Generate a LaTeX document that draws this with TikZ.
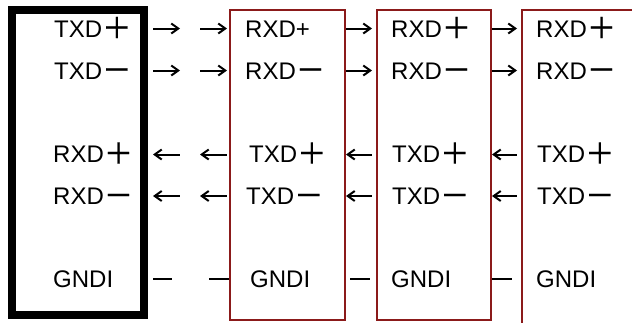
\documentclass[tikz,border=0pt]{standalone}
\usepackage{fontspec}
\setmainfont{Liberation Sans}
\newfontfamily\cjk{Noto Sans CJK JP}[Scale=1.22, FakeBold=0.4]
\usetikzlibrary{arrows.meta}
\definecolor{DevColor}{RGB}{139,26,26}
\newcommand{\wplus}{\raisebox{-1.5pt}{\cjk ＋}}
\newcommand{\wminus}{\raisebox{-1.5pt}{\cjk －}}

\begin{document}
\begin{tikzpicture}[x=1pt, y=-1pt,
    font=\fontsize{24}{28}\selectfont,
    host/.style={draw=black, line width=8pt, minimum width=132pt,
        minimum height=305pt, inner sep=0pt},
    dev/.style={draw=DevColor, line width=1.5pt, minimum width=115pt,
        minimum height=310pt, inner sep=0pt},
    pin/.style={anchor=base west, inner sep=0pt},
    fwd/.style={line width=2pt, -{Straight Barb[length=7pt, width=10pt]}},
    bwd/.style={line width=2pt, {Straight Barb[length=7pt, width=10pt]}-},
    gnd/.style={line width=2pt}]

    \useasboundingbox (0,0) rectangle (632,322);

    % boxes
    \node[host] (Host) at (78,162.5) {};
    \node[dev] (Dev1) at (287.5,165) {};
    \node[dev, minimum width=114pt] (Dev2) at (434,165) {};
    \node[dev, minimum width=118pt, minimum height=320pt] (Dev3) at (581,170) {};

    % host pins
    \node[pin] (HostTxP) at (54,37) {TXD\wplus};
    \node[pin] (HostTxN) at (54,79) {TXD\wminus};
    \node[pin] (HostRxP) at (53,162.5) {RXD\wplus};
    \node[pin] (HostRxN) at (53,204.5) {RXD\wminus};
    \node[pin] (HostGnd) at (53,287.5) {GNDI};

    % device pins
    \node[pin] (Dev1RxP) at (245,37) {RXD+};
    \node[pin] (Dev1RxN) at (245,79) {RXD\wminus};
    \node[pin] (Dev1TxP) at (249,162.5) {TXD\wplus};
    \node[pin] (Dev1TxN) at (246,204.5) {TXD\wminus};
    \node[pin] (Dev1Gnd) at (250,287.5) {GNDI};

    \foreach \n/\x in {2/391, 3/536} {
        \node[pin] (Dev\n RxP) at (\x,37) {RXD\wplus};
        \node[pin] (Dev\n RxN) at (\x,79) {RXD\wminus};
        \node[pin] (Dev\n TxP) at (\x+1,162.5) {TXD\wplus};
        \node[pin] (Dev\n TxN) at (\x+1,204.5) {TXD\wminus};
        \node[pin] (Dev\n Gnd) at (\x,287.5) {GNDI};
    }

    % signal arrows
    \foreach \a/\b [count=\g] in {153/180, 200/227, 346/372, 492/517} {
        \foreach \y/\dir [count=\r] in {28.5/fwd, 70.5/fwd, 154.5/bwd, 196/bwd} {
            \coordinate (S\g-\r) at (\a,\y);
            \coordinate (E\g-\r) at (\b,\y);
            \draw[\dir] (S\g-\r) -- (E\g-\r);
        }
    }

    % ground links
    \foreach \a/\b [count=\g] in {153/172, 209/229, 350/370, 492/512} {
        \coordinate (GS\g) at (\a,279);
        \coordinate (GE\g) at (\b,279);
        \draw[gnd] (GS\g) -- (GE\g);
    }

\end{tikzpicture}
\end{document}
